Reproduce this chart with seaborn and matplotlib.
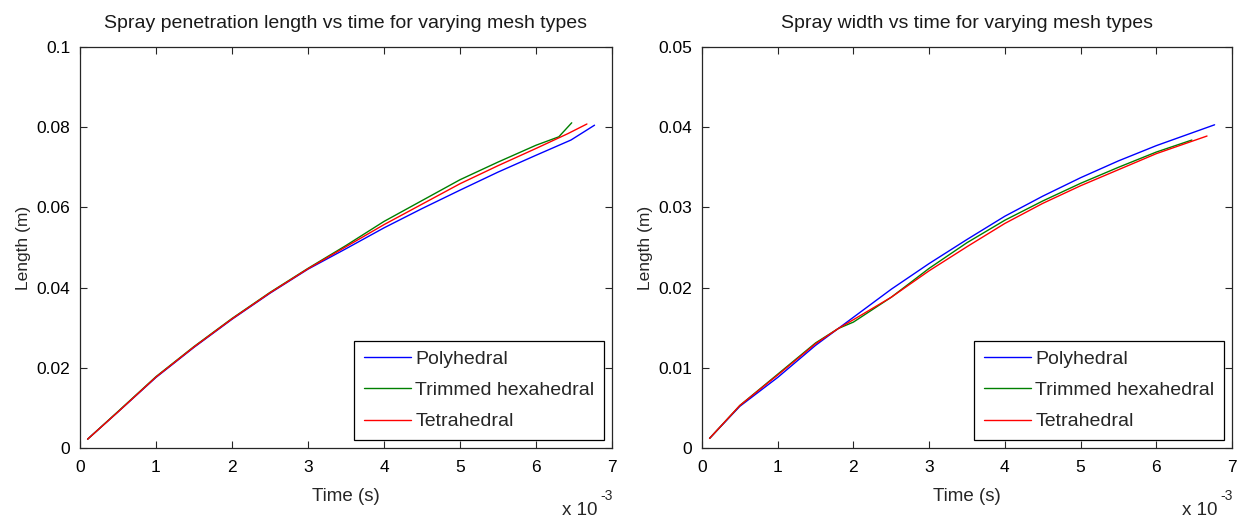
import matplotlib
matplotlib.use("Agg")
import matplotlib.pyplot as plt
import seaborn as sns
import pandas as pd
from matplotlib.ticker import FuncFormatter

# ---------------- data (time in units of 1e-3 s) ----------------
series_names = ["Polyhedral", "Trimmed hexahedral", "Tetrahedral"]
series_colors = ["#0000ff", "#008000", "#ff0000"]

# Left: spray penetration length (m)
pen_t_poly = [0.1, 0.5, 1.0, 1.5, 2.0, 2.5, 3.0, 3.5, 4.0, 4.5, 5.0, 5.5, 6.0, 6.46, 6.77]
pen_poly = [0.0022, 0.0090, 0.0176, 0.0251, 0.0321, 0.0386, 0.0446, 0.0497, 0.0549,
            0.0597, 0.0643, 0.0688, 0.0730, 0.0768, 0.0805]
pen_t_trim = [0.1, 0.5, 1.0, 1.5, 2.0, 2.5, 3.0, 3.5, 4.0, 4.5, 5.0, 5.5, 6.0, 6.3, 6.47]
pen_trim = [0.0022, 0.0091, 0.0178, 0.0253, 0.0323, 0.0388, 0.0448, 0.0505, 0.0565,
            0.0617, 0.0669, 0.0713, 0.0755, 0.0776, 0.0811]
pen_t_tet = [0.1, 0.5, 1.0, 1.5, 2.0, 2.5, 3.0, 3.5, 4.0, 4.5, 5.0, 5.5, 6.0, 6.42, 6.67]
pen_tet = [0.0022, 0.0090, 0.0177, 0.0252, 0.0322, 0.0387, 0.0447, 0.0502, 0.0557,
           0.0608, 0.0659, 0.0704, 0.0747, 0.0784, 0.0808]

# Right: spray width (m)
wid_t_poly = [0.1, 0.5, 1.0, 1.5, 1.8, 2.0, 2.5, 3.0, 3.5, 4.0, 4.5, 5.0, 5.5, 6.0, 6.77]
wid_poly = [0.0012, 0.0052, 0.0088, 0.0128, 0.0149, 0.0163, 0.0198, 0.0230, 0.0260,
            0.0289, 0.0314, 0.0337, 0.0358, 0.0377, 0.0403]
wid_t_trim = [0.1, 0.5, 1.0, 1.5, 1.8, 2.0, 2.5, 3.0, 3.5, 4.0, 4.5, 5.0, 5.5, 6.0, 6.47]
wid_trim = [0.0012, 0.0053, 0.0092, 0.0131, 0.0149, 0.0157, 0.0188, 0.0224, 0.0256,
            0.0284, 0.0308, 0.0330, 0.0350, 0.0369, 0.0384]
wid_t_tet = [0.1, 0.5, 1.0, 1.5, 1.8, 2.0, 2.5, 3.0, 3.5, 4.0, 4.5, 5.0, 5.5, 6.0, 6.67]
wid_tet = [0.0012, 0.0053, 0.0091, 0.0130, 0.0149, 0.0160, 0.0188, 0.0221, 0.0251,
           0.0280, 0.0305, 0.0327, 0.0347, 0.0367, 0.0389]

x_ticks = [0, 1, 2, 3, 4, 5, 6, 7]
pen_yticks = [0, 0.02, 0.04, 0.06, 0.08, 0.1]
wid_yticks = [0, 0.01, 0.02, 0.03, 0.04, 0.05]

titles = ["Spray penetration length vs time for varying mesh types",
          "Spray width vs time for varying mesh types"]

# ---------------- style ----------------
sns.set_style("ticks", {
    "xtick.direction": "in", "ytick.direction": "in",
    "axes.edgecolor": "#262626",
})
plt.rcParams["font.family"] = ["Liberation Sans", "DejaVu Sans"]
plt.rcParams["font.size"] = 12

fig = plt.figure(figsize=(12.4, 5.19), dpi=100)
ax1 = fig.add_axes([80 / 1240, 1 - 448 / 519, 532 / 1240, 401 / 519])
ax2 = fig.add_axes([702 / 1240, 1 - 448 / 519, 530 / 1240, 401 / 519])


def draw(ax, ts, ys, yticks, title):
    for t, y, name, c in zip(ts, ys, series_names, series_colors):
        df = pd.DataFrame({"t": t, "v": y})
        sns.lineplot(data=df, x="t", y="v", color=c, label=name, ax=ax,
                     linewidth=1.0, sort=False, estimator=None)
    ax.set_xlim(0, 7)
    ax.set_ylim(yticks[0], yticks[-1])
    ax.set_xticks(x_ticks)
    ax.set_yticks(yticks)
    ax.yaxis.set_major_formatter(FuncFormatter(lambda v, p: "%g" % round(v, 4)))
    ax.xaxis.set_major_formatter(FuncFormatter(lambda v, p: "%g" % v))
    ax.tick_params(which="both", top=True, right=True, length=5, width=0.8,
                   labelsize=12.5, colors="#262626", labelcolor="black")
    ax.tick_params(axis="x", pad=9)
    ax.tick_params(axis="y", pad=7)
    for s in ax.spines.values():
        s.set_visible(True)
        s.set_linewidth(0.9)
        s.set_color("#262626")
    ax.set_title(title, fontsize=14, pad=14, color="#1a1a1a")
    ax.set_xlabel("Time (s)", fontsize=13.5, labelpad=9)
    ax.set_ylabel("Length (m)", fontsize=12.5, labelpad=4)
    ax.text(0.972, -0.155, "x 10", transform=ax.transAxes,
            ha="right", va="center", fontsize=13.5)
    ax.text(0.978, -0.12, "-3", transform=ax.transAxes,
            ha="left", va="center", fontsize=10)
    leg = ax.legend(loc="lower right", frameon=True, fancybox=False,
                    edgecolor="black", framealpha=1, fontsize=14,
                    handlelength=2.4, handletextpad=0.25, borderpad=0.5,
                    labelspacing=0.7, borderaxespad=0.4)
    leg.get_frame().set_linewidth(0.9)


draw(ax1, [pen_t_poly, pen_t_trim, pen_t_tet], [pen_poly, pen_trim, pen_tet],
     pen_yticks, titles[0])
draw(ax2, [wid_t_poly, wid_t_trim, wid_t_tet], [wid_poly, wid_trim, wid_tet],
     wid_yticks, titles[1])

fig.savefig("out.png", dpi=100)
